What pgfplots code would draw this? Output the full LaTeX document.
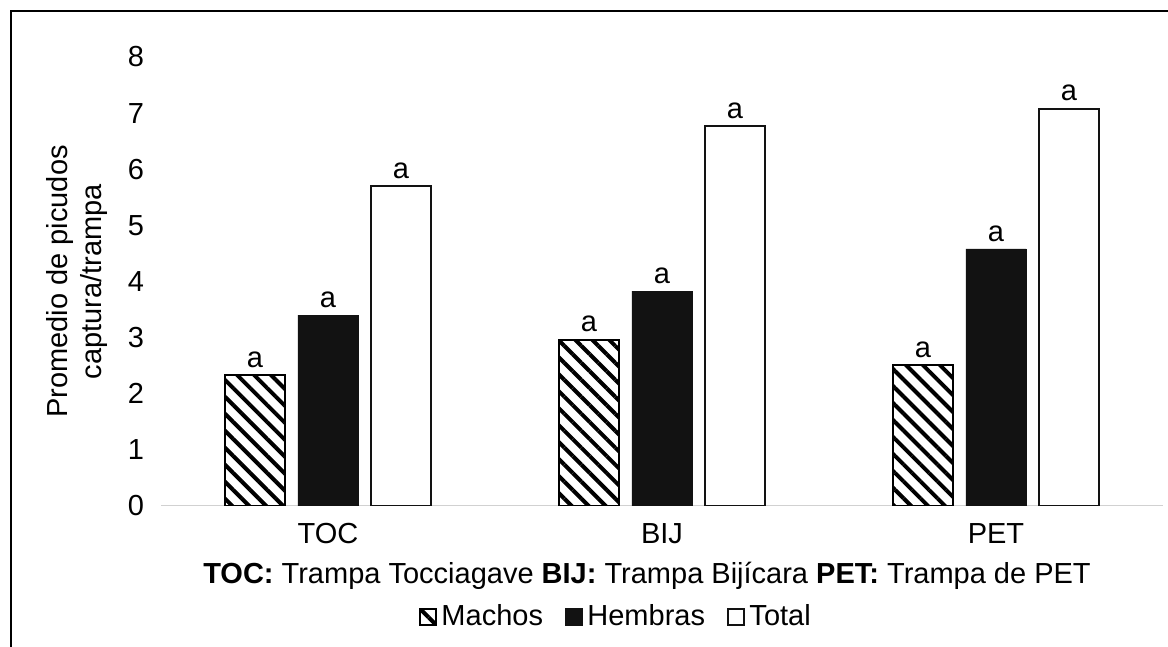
\documentclass[border=0pt]{standalone}
\usepackage{fontspec}
\setmainfont{Liberation Sans}
\usepackage{pgfplots}
\pgfplotsset{compat=1.18}
\usetikzlibrary{patterns.meta}

\begin{document}
\begin{tikzpicture}
\useasboundingbox (0,0) rectangle (584pt,323.5pt);
% chart frame (right and bottom edges fall outside the picture)
\draw[line width=1pt] (5.5pt,0) -- (5.5pt,318pt) -- (584pt,318pt);
\begin{axis}[
  at={(80.5pt,70.5pt)}, anchor=south west,
  scale only axis,
  width=501pt, height=224.5pt,
  xmin=-0.5, xmax=2.5,
  ymin=0, ymax=8,
  ytick={0,1,...,8},
  xtick={0,1,2},
  xticklabels={TOC,BIJ,PET},
  axis line style={draw=none},
  major tick length=0pt,
  font=\fontsize{14.5}{17}\selectfont,
  /pgf/number format/assume math mode=true,
  yticklabel style={xshift=-5pt},
  xticklabel style={yshift=-5pt},
  ylabel={Promedio de picudos\\captura/trampa},
  ylabel style={align=center, yshift=3.5pt},
  xlabel={\textbf{TOC:} Trampa Tocciagave \textbf{BIJ:} Trampa Bijícara \textbf{PET:} Trampa de PET},
  xlabel style={xshift=-7.5pt, yshift=-2.5pt},
  ybar,
  bar width=0.18,
  nodes near coords={a},
  every node near coord/.append style={font=\fontsize{14.5}{17}\selectfont, text=black},
  legend style={at={(0.455,-0.247)}, anchor=center, draw=none,
    legend columns=3, font=\fontsize{14.5}{17}\selectfont,
    /tikz/every even column/.append style={column sep=9pt}},
  legend image code/.code={\draw[#1, line width=1.2pt] (0pt,-4pt) rectangle (8pt,4pt);},
]
\draw[black!18, line width=0.7pt] (axis cs:-0.5,0) -- (axis cs:2.5,0);
\addplot[bar shift=-0.2186, draw=black, line width=1pt,
  pattern={Lines[angle=-45, distance=6pt, line width=2pt]}] coordinates
  {(0,2.33) (1,2.96) (2,2.51)};
\addplot[bar shift=0, draw=black!93, fill=black!93] coordinates
  {(0,3.40) (1,3.83) (2,4.58)};
\addplot[bar shift=0.2186, draw=black!93, line width=1pt, fill=white] coordinates
  {(0,5.70) (1,6.77) (2,7.08)};
\legend{Machos,Hembras,Total}
\end{axis}
\end{tikzpicture}
\end{document}
